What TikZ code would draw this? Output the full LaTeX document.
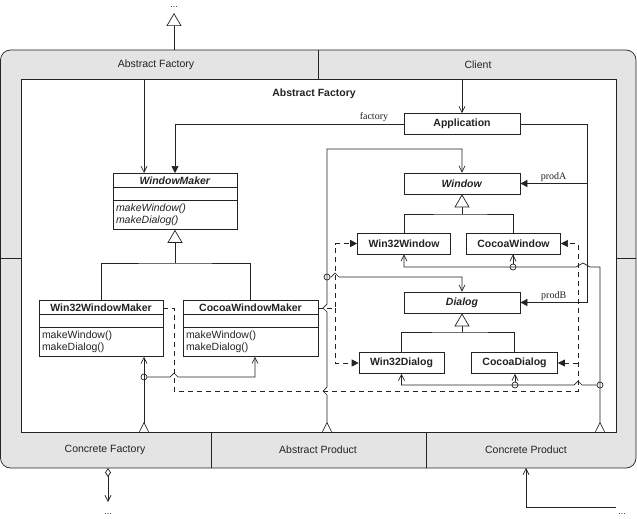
\documentclass[tikz,border=0pt]{standalone}
\usepackage{fontspec}
\setmainfont{Liberation Sans}
\newfontfamily\rolefont{Liberation Serif}
\usetikzlibrary{arrows.meta,shapes.multipart,calc}
\definecolor{band}{RGB}{228,228,228}
\definecolor{ink}{RGB}{35,35,35}
\newcommand{\diafont}{\fontsize{10.5}{12.5}\selectfont}
\tikzset{objbox/.style={draw,fill=white,font=\diafont\bfseries,minimum height=21pt,inner xsep=11pt,inner ysep=0pt},
  classbox/.style={draw,fill=white,font=\diafont,anchor=north,rectangle split,rectangle split parts=3,
    rectangle split part align={center,left,left},rectangle split empty part height=6pt,
    align=left,inner xsep=3pt,inner ysep=3pt},
  bandtext/.style={font=\diafont},
  titletext/.style={font=\diafont\bfseries},
  role/.style={font=\rolefont\fontsize{10}{12}\selectfont,inner sep=1.5pt},
  dots/.style={font=\fontsize{9}{10}\selectfont,inner sep=0pt},
  junction/.style={circle,draw,inner sep=0pt,minimum size=6pt},
  nav/.style={-{Straight Barb[length=6pt,width=6pt]}},
  owns/.style={-{Triangle[length=7pt,width=7pt]}},
  creates/.style={owns,dash pattern=on 5pt off 4pt},
  many/.style={{Straight Barb[reversed,length=9pt,width=9pt]}-{Straight Barb[length=6pt,width=6pt]}},
  inherit/.style={-{Triangle[length=13pt,width=15pt,fill=white]}},
  aggr/.style={{Diamond[open,length=9pt,width=6pt]}-{Straight Barb[length=6pt,width=6pt]}}}

\begin{document}
\begin{tikzpicture}[x=1pt,y=-1pt,line width=0.7pt,ink]
\useasboundingbox (0,0) rectangle (637,519);
% frame with the role bands
\draw[fill=band,rounded corners=10pt] (0.5,50) rectangle (636,468);
\draw[fill=white] (21,79) rectangle (616,432);
\draw (318,50) -- (318,79);
\draw (211,432) -- (211,468);
\draw (426,432) -- (426,468);
\draw (0.5,258) -- (21,258);
\draw (616,258) -- (636,258);
\node[bandtext] (afband) at (156,65) {Abstract Factory};
\node[bandtext] (clband) at (478,65) {Client};
\node[bandtext] (cfband) at (105,450) {Concrete Factory};
\node[bandtext] (apband) at (318,450) {Abstract Product};
\node[bandtext] (cpband) at (526,450) {Concrete Product};
\node[titletext] (title) at (314,94) {Abstract Factory};
\node[dots] (upper) at (174,7) {...};
\node[dots] (lower) at (108,514) {...};
\node[dots] (right) at (622,514) {...};

% classes
\node[objbox,minimum width=116pt] (app) at (462,124) {Application};
\node[objbox,minimum width=116pt] (win) at (462,183.5) {\textit{Window}};
\node[objbox,minimum width=116pt] (dlg) at (462,302.5) {\textit{Dialog}};
\node[objbox] (w32win) at (404,243.5) {Win32Window};
\node[objbox] (cocwin) at (513.5,243.5) {CocoaWindow};
\node[objbox] (w32dlg) at (401.5,363) {Win32Dialog};
\node[objbox] (cocdlg) at (514.5,363) {CocoaDialog};
\node[classbox,minimum width=124pt] (wm) at (175,173)
  {\textbf{\textit{WindowMaker}}\nodepart{two}\nodepart{three}\textit{makeWindow()}\\\textit{makeDialog()}};
\node[classbox,minimum width=124pt] (w32wm) at (101,300)
  {\textbf{Win32WindowMaker}\nodepart{two}\nodepart{three}makeWindow()\\makeDialog()};
\node[classbox,minimum width=135pt] (cocwm) at (250.5,300)
  {\textbf{CocoaWindowMaker}\nodepart{two}\nodepart{three}makeWindow()\\makeDialog()};

% band ends, bends and crossings
\coordinate (afT) at (174,50);
\coordinate (upT) at (174,13);
\coordinate (afB) at (144,79);
\coordinate (clB) at (462,79);
\coordinate (cfT) at (144,432);
\coordinate (cfB) at (108,468);
\coordinate (cfout) at (108,502);
\coordinate (apT) at (327,432);
\coordinate (cpT) at (600,432);
\coordinate (cpB) at (526,468);
\coordinate (cpout) at (616,507);
\coordinate (wmbar) at (175,263);
\coordinate (winbar) at (462,214);
\coordinate (dlgbar) at (462,332);
\coordinate (pcorner) at (587,124);
\coordinate (wintop) at (327,149);
\coordinate (cpturn) at (600,267);
\coordinate (w32dash) at (174,308);
\coordinate (cocdash) at (335,308);
\coordinate (dashturn) at (578,391);
\coordinate (hA) at (174,377);
\coordinate (hB) at (335,277);
\coordinate (hC) at (583,267);
\coordinate (hD) at (578,385);
\coordinate (hE) at (327,308);
\coordinate (hF) at (327,391);
\node[junction] (jcf) at (144,377) {};
\node[junction] (jap) at (327,277) {};
\node[junction] (jwin) at (513,267) {};
\node[junction] (jdlg) at (515,385) {};
\node[junction] (jcp) at (600,385) {};

% inheritance
\draw[inherit] (afT) -- (upT);
\draw (w32wm.north) |- (wmbar) -| (cocwm.north);
\draw[inherit] (wmbar) -- (wm.south);
\draw (w32win.north) |- (winbar) -| (cocwin.north);
\draw[inherit] (winbar) -- (win.south);
\draw (w32dlg.north) |- (dlgbar) -| (cocdlg.north);
\draw[inherit] (dlgbar) -- (dlg.south);

% associations
\draw[nav] (afB) -- (wm.north -| afB);
\draw[nav] (clB) -- (app.north);
\draw[owns] (app.west) -| node[role,above,pos=0.065] {factory} (wm.north);
\draw[owns] (app.east) -- (pcorner) |- node[role,above,pos=0.75] {prodA} (win.east);
\draw[owns] (pcorner) |- node[role,above,pos=0.75] {prodB} (dlg.east);
\draw[aggr] (cfB) -- (cfout);
\draw[nav] (cpout) -| (cpB);

% concrete factory role
\draw[many] (cfT) -- (w32wm.south -| cfT);
\draw[nav] (jcf) -- ([xshift=-4pt]hA) -- ([yshift=4pt]hA) -- ([xshift=4pt]hA) -| ([xshift=4.5pt]cocwm.south);

% abstract product role
\draw[many] (apT) -- ([yshift=-4pt]hF) -- ([xshift=-4pt]hF) -- ([yshift=4pt]hF)
  -- ([yshift=-4pt]hE) -- ([xshift=-4pt]hE) -- ([yshift=4pt]hE) -- (wintop) -| (win.north);
\draw[nav] (jap) -- ([xshift=-4pt]hB) -- ([yshift=4pt]hB) -- ([xshift=4pt]hB) -| (dlg.north);

% concrete product role
\draw[many] (cpT) -- (cpturn) -- ([xshift=7pt]hC) -- ([yshift=4pt]hC) -- ([xshift=-7pt]hC) -| (w32win.south);
\draw[nav] (jwin) -- (jwin |- cocwin.south);
\draw[nav] (jcp) -- ([xshift=4pt]hD) -- ([yshift=4pt]hD) -- ([xshift=-4pt]hD) -| (w32dlg.south);
\draw[nav] (jdlg) -- (jdlg |- cocdlg.south);

% creation
\draw[creates] (w32wm.east |- w32dash) -- (w32dash) |- (dashturn) |- (cocwin.east);
\draw[creates] (dashturn |- cocdlg.east) -- (cocdlg.east);
\draw[creates] (cocwm.east |- cocdash) -- (cocdash) |- (w32win.west);
\draw[creates] (cocdash) |- (w32dlg.west);
\end{tikzpicture}
\end{document}
